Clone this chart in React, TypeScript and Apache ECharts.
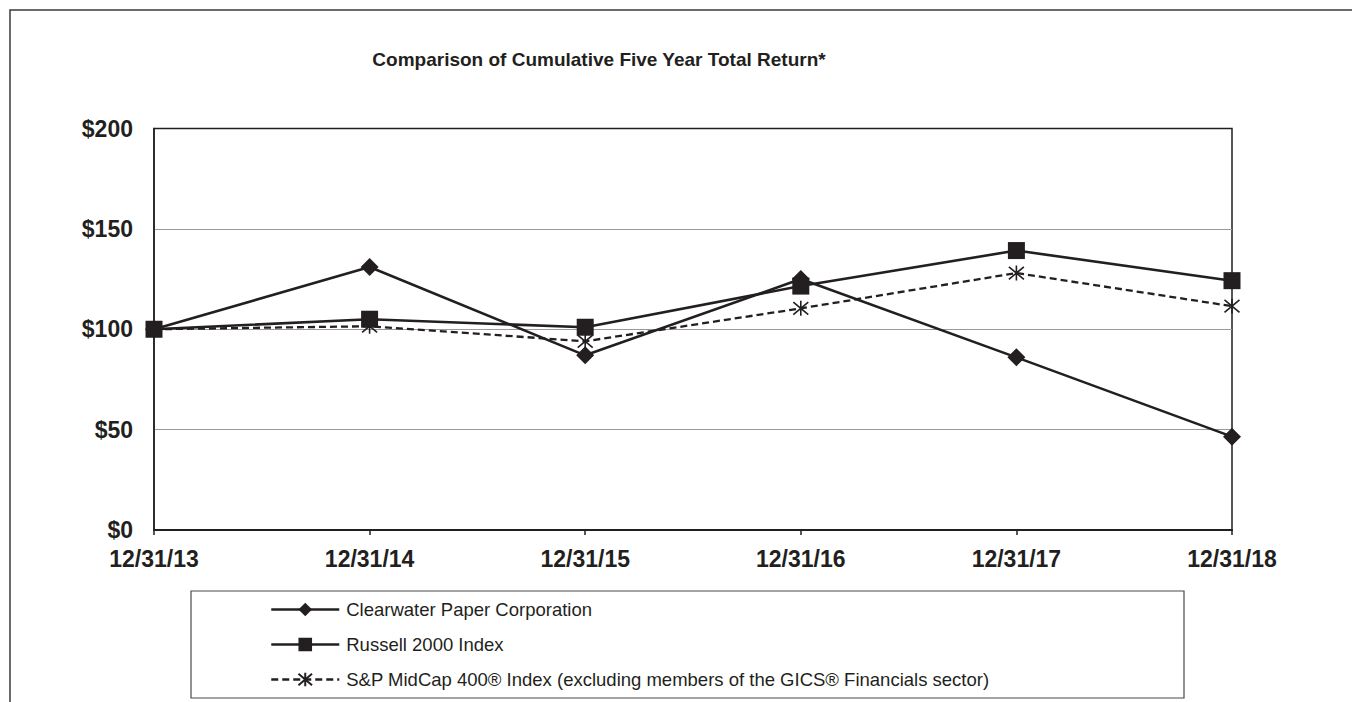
import React, { useEffect, useRef } from "react";
import * as echarts from "echarts";

const categories = ["12/31/13", "12/31/14", "12/31/15", "12/31/16", "12/31/17", "12/31/18"];
const clearwater = [100, 131, 87, 125, 86, 46.5];
const russell = [100, 105, 101, 121.5, 139.2, 124.2];
const spMidcap = [100, 101.5, 94, 110.4, 128, 111.5];
const seriesNames = [
  "Clearwater Paper Corporation",
  "Russell 2000 Index",
  "S&P MidCap 400® Index (excluding members of the GICS® Financials sector)",
];
const yTicks = [0, 50, 100, 150, 200];
const titleText = "Comparison of Cumulative Five Year Total Return*";

const INK = "#231f20";
const FONT = "Liberation Sans, Arial, sans-serif";
const ASTERISK = "path://M0,0L10,10M10,0L0,10M5,-1L5,11";

export default function App() {
  const ref = useRef<HTMLDivElement>(null);
  useEffect(() => {
    if (!ref.current) return;
    const chart = echarts.init(ref.current, null, { renderer: "svg" });
    chart.setOption({
      animation: false,
      backgroundColor: "#fff",
      textStyle: { fontFamily: FONT, color: INK },
      title: {
        text: titleText,
        left: 599,
        top: 50,
        textAlign: "center",
        padding: 0,
        textStyle: { fontSize: 19, fontWeight: "bold", color: INK, fontFamily: FONT },
      },
      graphic: [
        {
          type: "rect",
          shape: { x: 10, y: 10, width: 1400, height: 800 },
          style: { fill: "none", stroke: "#3a3a3a", lineWidth: 1.5 },
          silent: true,
          z: -1,
        },
        {
          type: "rect",
          shape: { x: 191, y: 591, width: 993, height: 107 },
          style: { fill: "none", stroke: "#4a4a4a", lineWidth: 1.2 },
          silent: true,
        },
      ],
      grid: {
        left: 154,
        top: 128.5,
        right: 120,
        bottom: 172,
        show: true,
        borderColor: INK,
        borderWidth: 1.5,
        backgroundColor: "transparent",
      },
      legend: {
        orient: "vertical",
        left: 270,
        top: 600,
        itemWidth: 68,
        itemHeight: 17,
        itemGap: 16,
        padding: 0,
        lineStyle: { width: 2.5 },
        textStyle: { fontSize: 18.5, color: INK, fontFamily: FONT, padding: [0, 0, 0, 2] },
        data: seriesNames,
      },
      xAxis: {
        type: "category",
        data: categories,
        boundaryGap: false,
        axisLine: { lineStyle: { color: INK, width: 2 } },
        axisTick: { show: true, length: 5, lineStyle: { color: INK, width: 1.5 } },
        axisLabel: { fontSize: 23, fontWeight: "bold", color: INK, margin: 17 },
        splitLine: { show: false },
      },
      yAxis: {
        type: "value",
        min: 0,
        max: 200,
        interval: 50,
        axisLine: { show: true, lineStyle: { color: INK, width: 1.5 } },
        axisTick: { show: false },
        axisLabel: {
          fontSize: 23,
          fontWeight: "bold",
          color: INK,
          margin: 21,
          formatter: (v: number) => (yTicks.includes(v) ? "$" + v : ""),
        },
        splitLine: { show: true, lineStyle: { color: ["#999", "#999", "#999", "#999", INK], width: 1 } },
      },
      series: [
        {
          name: seriesNames[0],
          type: "line",
          data: clearwater,
          symbol: "diamond",
          symbolSize: 18,
          lineStyle: { color: INK, width: 2.6 },
          itemStyle: { color: INK },
          z: 3,
        },
        {
          name: seriesNames[1],
          type: "line",
          data: russell,
          symbol: "rect",
          symbolSize: 17,
          lineStyle: { color: INK, width: 2.6 },
          itemStyle: { color: INK },
          z: 4,
        },
        {
          name: seriesNames[2],
          type: "line",
          data: spMidcap,
          symbol: ASTERISK,
          symbolSize: 15,
          lineStyle: { color: INK, width: 2.3, type: [7, 4] },
          itemStyle: { color: "rgba(0,0,0,0)", borderColor: INK, borderWidth: 1.6 },
          z: 2,
        },
      ],
    });
    return () => chart.dispose();
  }, []);
  return <div ref={ref} style={{ position: "absolute", left: 0, top: 0, width: 1352, height: 702 }} />;
}
